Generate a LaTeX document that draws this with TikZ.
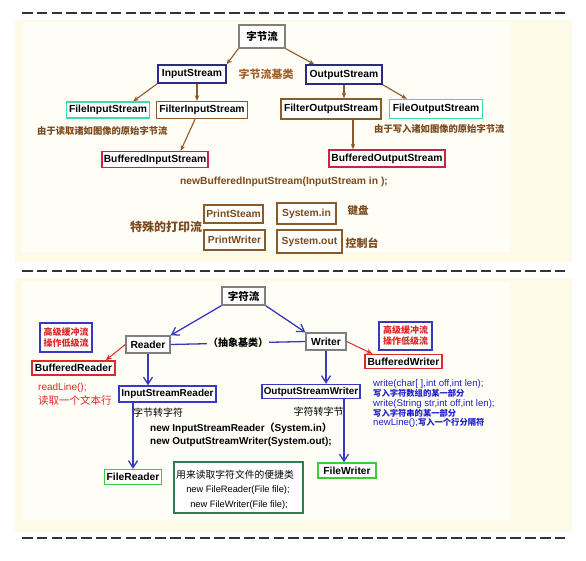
\documentclass[tikz,border=0pt]{standalone}
\usepackage{fontspec}
\setmainfont{Liberation Sans}
\newfontfamily\cjk{Noto Sans CJK SC}
\usetikzlibrary{arrows.meta,calc}
\definecolor{cream}{HTML}{FDFAE8}
\definecolor{brarrow}{HTML}{8B5A2B}
\definecolor{brtxt}{HTML}{7B4A1E}
\definecolor{orbr}{HTML}{A0622D}
\definecolor{navy}{HTML}{2B2B7F}
\definecolor{teal}{HTML}{3DDBA5}
\definecolor{crimson}{HTML}{CC2244}
\definecolor{boxgray}{HTML}{7F7F7F}
\definecolor{lnblue}{HTML}{3838C0}
\definecolor{rd}{HTML}{E02828}
\definecolor{grn}{HTML}{3CCB3C}
\definecolor{dgrn}{HTML}{2E7D4F}
\definecolor{txtblue}{HTML}{1E1ED0}
\definecolor{dashgray}{HTML}{333333}
\begin{document}
\begin{tikzpicture}[x=1pt,y=-1pt,
  bx/.style={draw, line width=1.4pt, inner sep=0pt, fill=white, font=\bfseries\fontsize{10.3}{12}\selectfont},
  cbx/.style={draw, line width=1.4pt, inner sep=0pt, fill=white, font=\cjk\bfseries\fontsize{10.5}{12}\selectfont},
  brarr/.style={draw=brarrow, line width=1.1pt, -{Stealth[length=5.5pt,width=4.5pt]}},
  blarr/.style={draw=lnblue, line width=1.3pt, -{Straight Barb[length=7pt,width=9pt]}},
  rdarr/.style={draw=rd, line width=1pt, -{Stealth[length=6pt,width=5pt]}},
  dashline/.style={draw=dashgray, line width=1.5pt, dash pattern=on 10.5pt off 4.3pt},
  lbl/.style={inner sep=0pt, anchor=west}
]
\useasboundingbox (0,0) rectangle (586,560);
\fill[white] (0,0) rectangle (586,560);
% panels
\fill[cream] (15,20) rectangle (572,262);
\fill[white!60!cream] (22,22) rectangle (510,252);
\fill[cream] (15,278) rectangle (572,532);
\fill[white!60!cream] (22,282) rectangle (510,520);
% dashed separators
\draw[dashline] (22,13) -- (568,13);
\draw[dashline] (22,271) -- (568,271);
\draw[dashline] (22,538) -- (568,538);

% ===== top section =====
\node[cbx, draw=boxgray!90!brown, minimum width=46, minimum height=23] (zj) at (262,36.5) {字节流};
\node[bx, draw=navy, minimum width=68, minimum height=18] (is) at (192,74) {InputStream};
\node[bx, draw=navy, minimum width=76, minimum height=19] (os) at (344,74.5) {OutputStream};
\node[inner sep=0pt, text=orbr, font=\cjk\bfseries\fontsize{11}{12}\selectfont] (jl) at (266,74) {字节流基类};
\node[bx, draw=teal, minimum width=83, minimum height=16] (fis) at (108,110) {FileInputStream};
\node[bx, draw=brarrow, minimum width=91, minimum height=17] (filis) at (202,110) {FilterInputStream};
\node[bx, draw=brarrow, minimum width=100, minimum height=20] (filos) at (331,109) {FilterOutputStream};
\node[bx, draw=teal, minimum width=93, minimum height=19] (fos) at (436,109) {FileOutputStream};
\node[lbl, text=brtxt, font=\cjk\bfseries\fontsize{9.3}{11}\selectfont] (t1) at (37,131) {由于读取诸如图像的原始字节流};
\node[lbl, text=brtxt, font=\cjk\bfseries\fontsize{9.3}{11}\selectfont] (t2) at (374,129) {由于写入诸如图像的原始字节流};
\node[bx, draw=crimson, minimum width=106, minimum height=16] (bis) at (155,159.5) {BufferedInputStream};
\node[bx, draw=crimson, minimum width=116, minimum height=17] (bos) at (387,158.5) {BufferedOutputStream};
\node[inner sep=0pt, text=brtxt, font=\bfseries\fontsize{10.3}{12}\selectfont] (nb) at (284,182) {newBufferedInputStream(InputStream in );};
\node[bx, draw=brarrow, text=brtxt, minimum width=59, minimum height=18] (ps) at (233.5,214) {PrintSteam};
\node[bx, draw=brarrow, text=brtxt, minimum width=59, minimum height=21] (sin) at (306.5,213.5) {System.in};
\node[bx, draw=brarrow, text=brtxt, minimum width=61, minimum height=20] (pw) at (234.5,240) {PrintWriter};
\node[bx, draw=brarrow, text=brtxt, minimum width=65, minimum height=23] (sout) at (309.5,241.5) {System.out};
\node[inner sep=0pt, text=brtxt, font=\cjk\bfseries\fontsize{10.5}{12}\selectfont] (kb) at (358,211) {键盘};
\node[inner sep=0pt, text=brtxt, font=\cjk\bfseries\fontsize{11}{12}\selectfont] (kzt) at (362,243) {控制台};
\node[inner sep=0pt, text=brtxt, font=\cjk\bfseries\fontsize{12}{13}\selectfont] (tsp) at (166,227) {特殊的打印流};

% top arrows
\draw[brarr] (zj.south west) -- (is.north east);
\draw[brarr] (zj.south east) -- ($(os.north west)+(9,0)$);
\draw[brarr] (is.south west) -- ($(fis.north east)+(-17,0)$);
\coordinate (a1) at ($(is.south)+(5,0)$);
\draw[brarr] (a1) -- (a1 |- filis.north);
\draw[brarr] (os.south) -- (os.south |- filos.north);
\draw[brarr] (os.south east) -- ($(fos.north west)+(18,0)$);
\draw[brarr] ($(filis.south)+(-7,0)$) -- ($(bis.north east)+(-28,0)$);
\coordinate (a2) at ($(filos.south)+(22,0)$);
\draw[brarr] (a2) -- (a2 |- bos.north);

% ===== bottom section =====
\node[cbx, draw=boxgray, minimum width=43, minimum height=18] (zf) at (243.5,296) {字符流};
\node[bx, draw=boxgray, minimum width=44, minimum height=17] (rdr) at (148,344.5) {Reader};
\node[bx, draw=boxgray, minimum width=40, minimum height=17] (wr) at (326,341.5) {Writer};
\node[draw=lnblue, line width=1.4pt, fill=white, inner sep=0pt, minimum width=52, minimum height=29, align=center, text=rd, font=\cjk\bfseries\fontsize{9}{11}\selectfont] (gj1) at (66,337.5) {高级缓冲流\\操作低级流};
\node[draw=lnblue, line width=1.4pt, fill=white, inner sep=0pt, minimum width=53, minimum height=28, align=center, text=rd, font=\cjk\bfseries\fontsize{9}{11}\selectfont] (gj2) at (405.5,336) {高级缓冲流\\操作低级流};
\node[bx, draw=rd, minimum width=83, minimum height=14] (br) at (73.5,368) {BufferedReader};
\node[bx, draw=rd, minimum width=77, minimum height=14] (bw) at (403.5,361.5) {BufferedWriter};
\node[bx, draw=lnblue, minimum width=97, minimum height=16, font=\bfseries\fontsize{10}{12}\selectfont] (isr) at (167.5,394) {InputStreamReader};
\node[bx, draw=lnblue, minimum width=98, minimum height=14, font=\bfseries\fontsize{9.9}{12}\selectfont] (osw) at (311,391.5) {OutputStreamWriter};
\node[bx, draw=grn, minimum width=57, minimum height=15] (fr) at (133,477) {FileReader};
\node[bx, draw=grn, minimum width=58, minimum height=15] (fw) at (347,470.5) {FileWriter};
\node[draw=dgrn, line width=1.4pt, fill=white, inner sep=0pt, minimum width=129, minimum height=51] (ub) at (238.5,487.5) {};
\node[inner sep=0pt, font=\cjk\fontsize{9.8}{11}\selectfont] (u1) at (235,475) {用来读取字符文件的便捷类};
\node[inner sep=0pt, font=\fontsize{9.3}{11}\selectfont] (u2) at (238,490) {new FileReader(File file);};
\node[inner sep=0pt, font=\fontsize{9.3}{11}\selectfont] (u3) at (239,505) {new FileWriter(File file);};

\node[lbl, text=rd, font=\fontsize{10}{11}\selectfont] (rl1) at (38,388) {readLine();};
\node[lbl, text=rd, font=\cjk\fontsize{10.5}{11}\selectfont] (rl2) at (38,400) {读取一个文本行};
\node[lbl, font=\cjk\fontsize{10}{11}\selectfont] (zz1) at (133,413) {字节转字符};
\node[inner sep=0pt, font=\cjk\fontsize{10}{11}\selectfont] (zz2) at (318.5,412) {字符转字节};
\node[lbl, font=\bfseries\fontsize{10}{11}\selectfont] (n1) at (150,428) {new InputStreamReader{\cjk（}System.in{\cjk）}};
\node[lbl, font=\bfseries\fontsize{10}{11}\selectfont] (n2) at (150,442) {new OutputStreamWriter(System.out);};

\node[lbl, text=txtblue, font=\fontsize{9.6}{10}\selectfont] (w1) at (373,384) {write(char[ ],int off,int len);};
\node[lbl, text=txtblue, font=\cjk\bfseries\fontsize{8.3}{10}\selectfont] (w2) at (373,393.5) {写入字符数组的某一部分};
\node[lbl, text=txtblue, font=\fontsize{9.6}{10}\selectfont] (w3) at (373,404) {write(String str,int off,int len);};
\node[lbl, text=txtblue, font=\cjk\bfseries\fontsize{8.3}{10}\selectfont] (w4) at (373,413) {写入字符串的某一部分};
\node[lbl, text=txtblue, font=\fontsize{9.6}{10}\selectfont] (w5) at (373,423) {newLine();{\cjk\bfseries\fontsize{8.3}{10}\selectfont 写入一个行分隔符}};

% bottom connectors
\draw[blarr] (zf.south west) -- (rdr.north east);
\draw[blarr] (zf.south east) -- (wr.north west);
\draw[draw=lnblue, line width=1.3pt] (rdr.east) -- node[fill=white!60!cream, inner sep=1pt, font=\cjk\bfseries\fontsize{10}{11}\selectfont] (abs) {（抽象基类）} (wr.west);
\draw[rdarr] (rdr.west) -- ($(br.north east)+(-10,0)$);
\draw[rdarr] (wr.east) -- ($(bw.north west)+(8,0)$);
\draw[blarr] (rdr.south) -- (rdr.south |- isr.north);
\draw[blarr] (wr.south) -- (wr.south |- osw.north);
\draw[blarr] (fr.north |- isr.south) -- (fr.north);
\coordinate (a3) at ($(fw.north)+(-3,0)$);
\draw[blarr] (a3 |- osw.south) -- (a3);
\end{tikzpicture}
\end{document}
